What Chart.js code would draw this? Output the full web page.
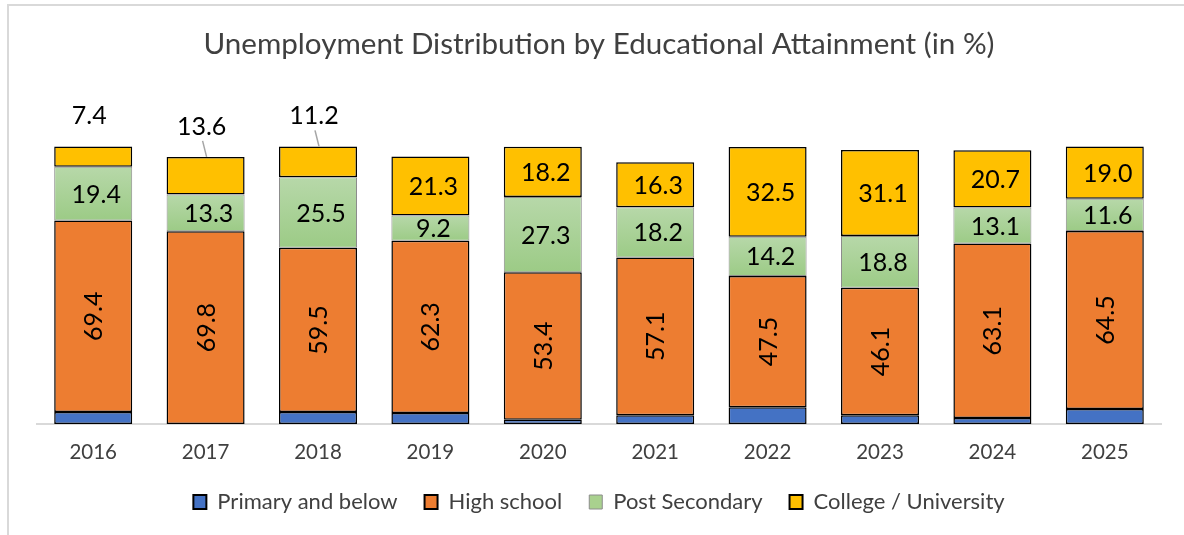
<!DOCTYPE html>
<html>
<head>
<meta charset="utf-8">
<script src="https://cdn.jsdelivr.net/npm/chart.js@4.4.0/dist/chart.umd.min.js"></script>
<style>
  html, body { margin: 0; padding: 0; background: #fff; }
  body { width: 1184px; height: 535px; position: relative; overflow: hidden; }
  .frame { position: absolute; left: 7px; top: 4px; width: 1200px; height: 560px; border: 2px solid #d9d9d9; box-sizing: border-box; }
  #myChart { position: absolute; left: 0; top: 0; }
</style>
</head>
<body>
<div class="frame"></div>
<canvas id="myChart" width="1184" height="535"></canvas>
<script>
const years = ['2016', '2017', '2018', '2019', '2020', '2021', '2022', '2023', '2024', '2025'];
const seriesNames = ['Primary and below', 'High school', 'Post Secondary', 'College / University'];

// primary is not labelled in the picture
const primary = [4.3, 0, 4.3, 4.0, 1.5, 3.2, 6.1, 3.2, 2.2, 5.4];
const highSchool = [69.4, 69.8, 59.5, 62.3, 53.4, 57.1, 47.5, 46.1, 63.1, 64.5];
const postSecondary = [19.4, 13.3, 25.5, 9.2, 27.3, 18.2, 14.2, 18.8, 13.1, 11.6];
const college = [7.4, 13.6, 11.2, 21.3, 18.2, 16.3, 32.5, 31.1, 20.7, 19.0];

// college labels sitting above the bar (and which ones get a leader line)
const collegeOutside = [true, true, true, false, false, false, false, false, false, false];
const collegeLeader = [false, true, true, false, false, false, false, false, false, false];

const FONT = 'Lato, "Liberation Sans", sans-serif';

function greenGradient(c) {
    const chart = c.chart;
    const y = chart.scales.y;
    if (!y || c.dataIndex === undefined) return '#a9d18e';
    const i = c.dataIndex;
    const bottom = y.getPixelForValue(primary[i] + highSchool[i]);
    const top = y.getPixelForValue(primary[i] + highSchool[i] + postSecondary[i]);
    if (!isFinite(top) || !isFinite(bottom) || top === bottom) return '#a9d18e';
    const g = chart.ctx.createLinearGradient(0, top, 0, bottom);
    g.addColorStop(0, '#b7d8a9');
    g.addColorStop(1, '#9ccb86');
    return g;
}

const barLabels = {
    id: 'barLabels',
    afterDatasetsDraw(chart) {
        const ctx = chart.ctx;
        ctx.save();
        ctx.fillStyle = '#000';
        ctx.font = '25px ' + FONT;
        ctx.textAlign = 'center';
        ctx.textBaseline = 'middle';

        // high school, rotated
        chart.getDatasetMeta(1).data.forEach((bar, i) => {
            const mid = (bar.y + bar.base) / 2;
            ctx.save();
            ctx.translate(bar.x, mid);
            ctx.rotate(-Math.PI / 2);
            ctx.fillText(highSchool[i].toFixed(1), 0, 1);
            ctx.restore();
        });

        // post secondary
        chart.getDatasetMeta(2).data.forEach((bar, i) => {
            ctx.fillText(postSecondary[i].toFixed(1), bar.x + 3, (bar.y + bar.base) / 2 + 1);
        });

        // college
        chart.getDatasetMeta(3).data.forEach((bar, i) => {
            const txt = college[i].toFixed(1);
            if (collegeOutside[i]) {
                const ly = bar.y - 30;
                ctx.fillText(txt, bar.x - 4, ly);
                if (collegeLeader[i]) {
                    ctx.strokeStyle = '#a6a6a6';
                    ctx.lineWidth = 1.5;
                    ctx.beginPath();
                    ctx.moveTo(bar.x - 3, ly + 14);
                    ctx.lineTo(bar.x + 1, bar.y);
                    ctx.stroke();
                }
            } else {
                ctx.fillText(txt, bar.x + 3, (bar.y + bar.base) / 2 + 1);
            }
        });
        ctx.restore();
    }
};

const commonBar = {
    borderWidth: 1.5,
    borderSkipped: false,
    barPercentage: 0.694,
    categoryPercentage: 1.0
};

new Chart(document.getElementById('myChart'), {
    type: 'bar',
    data: {
        labels: years,
        datasets: [
            Object.assign({ label: seriesNames[0], data: primary, backgroundColor: '#4472c4', borderColor: '#000' }, commonBar),
            Object.assign({ label: seriesNames[1], data: highSchool, backgroundColor: '#ed7d31', borderColor: '#000' }, commonBar),
            Object.assign({ label: seriesNames[2], data: postSecondary, backgroundColor: greenGradient, borderColor: '#8c8c8c' }, commonBar, { borderWidth: 1 }),
            Object.assign({ label: seriesNames[3], data: college, backgroundColor: '#ffc000', borderColor: '#000' }, commonBar)
        ]
    },
    options: {
        responsive: false,
        animation: false,
        layout: {
            padding: { left: 37, right: 23, top: 0, bottom: 12 }
        },
        scales: {
            x: {
                stacked: true,
                grid: { display: false, drawTicks: false },
                border: { color: '#d9d9d9', width: 2 },
                ticks: { color: '#404040', padding: 16, font: { size: 20.5, family: FONT } },
                afterFit(scale) { scale.height = 40; }
            },
            y: {
                stacked: true,
                display: false,
                min: 0,
                max: 120
            }
        },
        plugins: {
            tooltip: { enabled: false },
            title: {
                display: true,
                text: 'Unemployment Distribution by Educational Attainment (in %)',
                color: '#404040',
                font: { size: 29.6, family: FONT, weight: 'normal' },
                padding: { top: 27, bottom: 30 }
            },
            legend: {
                position: 'bottom',
                labels: {
                    color: '#404040',
                    boxWidth: 13,
                    boxHeight: 14,
                    padding: 27,
                    font: { size: 22, family: FONT },
                    generateLabels(chart) {
                        return chart.data.datasets.map((ds, i) => ({
                            text: ds.label,
                            fillStyle: ['#4472c4', '#ed7d31', '#a9d18e', '#ffc000'][i],
                            strokeStyle: i === 2 ? '#8c8c8c' : '#000',
                            lineWidth: i === 2 ? 1 : 2,
                            fontColor: '#404040',
                            datasetIndex: i
                        }));
                    }
                }
            }
        }
    },
    plugins: [barLabels]
});
</script>
</body>
</html>
